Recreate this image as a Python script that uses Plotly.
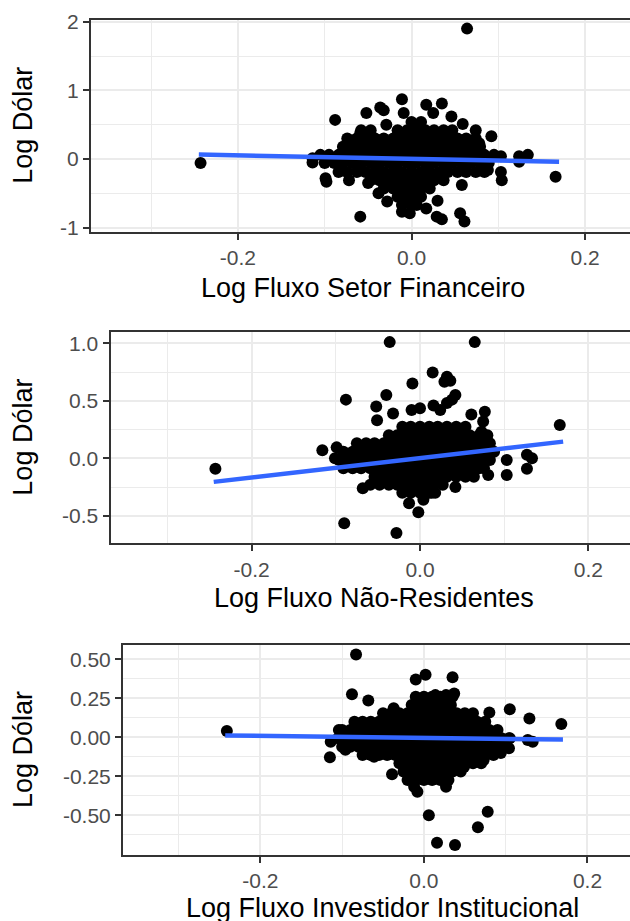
import plotly.graph_objects as go

# ---------------- data ----------------
# Panel 1: Log Fluxo Setor Financeiro vs Log Dolar
fin_outliers = [(-0.243, -0.06), (0.064, 1.90), (-0.011, 0.87), (-0.036, 0.75), (-0.032, 0.71),
                (-0.052, 0.67), (-0.088, 0.57), (0.017, 0.79), (0.035, 0.81), (-0.009, 0.67),
                (0.025, 0.67), (0.046, 0.62), (0.059, 0.51), (0.074, 0.42), (0.092, 0.33),
                (-0.029, 0.50), (-0.059, 0.38), (-0.051, 0.37), (0.078, 0.23), (0.103, 0.04),
                (0.124, 0.04), (0.134, 0.06), (0.124, -0.04), (0.166, -0.26), (-0.114, 0.01),
                (-0.114, -0.05), (-0.099, -0.28), (-0.098, -0.33), (-0.072, -0.31), (-0.050, -0.35),
                (-0.038, -0.50), (-0.028, -0.62), (-0.059, -0.84), (-0.011, -0.77), (-0.002, -0.79),
                (0.017, -0.72), (0.029, -0.84), (0.035, -0.88), (0.030, -0.61), (0.058, -0.38),
                (0.056, -0.79), (0.061, -0.91), (0.103, -0.19), (0.104, -0.31), (0.088, -0.16)]
fin_core_rows = [
    (0.54, [0.000, 0.011]),
    (0.42, [-0.058, -0.047, -0.016, -0.005, 0.005, 0.016, 0.026, 0.037, 0.047]),
    (0.30, [-0.074, -0.063, -0.053, -0.042, -0.032, -0.021, -0.011, 0.000, 0.011, 0.021, 0.032,
            0.042, 0.053, 0.063, 0.074]),
    (0.18, [-0.079, -0.068, -0.058, -0.047, -0.037, -0.026, -0.016, -0.005, 0.005, 0.016, 0.026,
            0.037, 0.047, 0.058, 0.068, 0.079]),
    (0.06, [-0.105, -0.095, -0.084, -0.074, -0.063, -0.053, -0.042, -0.032, -0.021, -0.011, 0.000,
            0.011, 0.021, 0.032, 0.042, 0.053, 0.063, 0.074, 0.084, 0.095]),
    (-0.06, [-0.100, -0.089, -0.079, -0.068, -0.058, -0.047, -0.037, -0.026, -0.016, -0.005, 0.005,
             0.016, 0.026, 0.037, 0.047, 0.058, 0.068, 0.079, 0.089]),
    (-0.19, [-0.084, -0.074, -0.063, -0.053, -0.042, -0.032, -0.021, -0.011, 0.000, 0.011, 0.021,
             0.032, 0.042, 0.053, 0.063, 0.074, 0.084]),
    (-0.31, [-0.047, -0.037, -0.026, -0.016, -0.005, 0.005, 0.016, 0.026, 0.037]),
    (-0.43, [-0.032, -0.021, -0.011, 0.000, 0.011, 0.021]),
    (-0.55, [-0.016, -0.005, 0.005, 0.011]),
    (-0.67, [-0.011, 0.000, 0.006]),
]
fin_fit_x = [-0.245, 0.170]
fin_fit_y = [0.065, -0.040]

# Panel 2: Log Fluxo Nao-Residentes vs Log Dolar
nr_outliers = [(-0.243, -0.09), (-0.036, 1.01), (0.065, 1.01), (0.015, 0.745), (0.032, 0.71),
               (0.036, 0.675), (0.029, 0.666), (-0.009, 0.65), (-0.040, 0.55), (-0.088, 0.51),
               (-0.052, 0.45), (-0.051, 0.33), (0.042, 0.55), (0.038, 0.51), (0.032, 0.48),
               (-0.010, 0.42), (0.000, 0.435), (0.016, 0.46), (0.024, 0.42), (-0.032, 0.39),
               (0.061, 0.38), (0.077, 0.405), (0.075, 0.32), (0.073, 0.23), (0.166, 0.29),
               (-0.116, 0.07), (-0.099, 0.095), (-0.101, 0.0), (0.127, 0.03), (0.133, 0.0),
               (0.127, -0.09), (0.103, -0.015), (0.103, -0.145), (0.081, -0.145), (-0.068, -0.26),
               (0.042, -0.25), (-0.013, -0.39), (-0.002, -0.47), (0.014, -0.30), (0.004, -0.36),
               (-0.090, -0.565), (-0.028, -0.65)]
nr_core_rows = [
    (0.275, [-0.021, -0.011, 0.000, 0.011, 0.021, 0.032, 0.043, 0.054]),
    (0.20, [-0.037, -0.027, -0.016, -0.005, 0.005, 0.016, 0.027, 0.037, 0.048, 0.059, 0.070, 0.080]),
    (0.13, [-0.075, -0.064, -0.054, -0.043, -0.032, -0.021, -0.011, 0.000, 0.011, 0.021, 0.032,
            0.043, 0.054, 0.064, 0.075, 0.083]),
    (0.057, [-0.091, -0.080, -0.070, -0.059, -0.048, -0.037, -0.027, -0.016, -0.005, 0.005, 0.016,
             0.027, 0.037, 0.048, 0.059, 0.070, 0.080, 0.088]),
    (-0.015, [-0.096, -0.086, -0.075, -0.064, -0.054, -0.043, -0.032, -0.021, -0.011, 0.000, 0.011,
              0.021, 0.032, 0.043, 0.054, 0.064, 0.075, 0.083]),
    (-0.087, [-0.091, -0.080, -0.070, -0.059, -0.048, -0.037, -0.027, -0.016, -0.005, 0.005, 0.016,
              0.027, 0.037, 0.048, 0.059, 0.070, 0.076]),
    (-0.16, [-0.054, -0.043, -0.032, -0.021, -0.011, 0.000, 0.011, 0.021, 0.032, 0.043, 0.054,
             0.064]),
    (-0.23, [-0.059, -0.048, -0.037, -0.027, -0.016, -0.005, 0.005, 0.016, 0.027]),
    (-0.30, [-0.021, -0.011, 0.000, 0.011, 0.018]),
]
nr_fit_x = [-0.245, 0.170]
nr_fit_y = [-0.205, 0.145]

# Panel 3: Log Fluxo Investidor Institucional vs Log Dolar
ii_outliers = [(-0.241, 0.04), (-0.083, 0.53), (-0.010, 0.37), (0.002, 0.40), (0.035, 0.385),
               (-0.088, 0.275), (-0.068, 0.235), (-0.037, 0.186), (0.037, 0.28), (0.027, 0.27),
               (0.014, 0.27), (0.080, 0.158), (0.105, 0.18), (0.129, 0.12), (0.168, 0.085),
               (0.127, -0.017), (0.133, -0.028), (0.104, -0.006), (0.104, -0.07), (0.094, -0.10),
               (-0.104, 0.047), (-0.114, -0.028), (-0.115, -0.128), (-0.096, -0.08), (-0.061, -0.124),
               (-0.039, -0.237), (0.073, -0.145), (-0.012, -0.317), (-0.008, -0.349), (0.027, -0.317),
               (0.049, -0.19), (0.006, -0.50), (0.078, -0.477), (0.066, -0.577), (0.016, -0.676),
               (0.038, -0.69)]
ii_core_rows = [
    (0.26, [-0.010, 0.000, 0.010, 0.020, 0.030, 0.035]),
    (0.207, [-0.015, -0.005, 0.005, 0.015, 0.025, 0.033]),
    (0.154, [-0.050, -0.040, -0.030, -0.020, -0.010, 0.000, 0.010, 0.020, 0.030, 0.040, 0.050,
             0.060]),
    (0.10, [-0.085, -0.075, -0.065, -0.055, -0.045, -0.035, -0.025, -0.015, -0.005, 0.005, 0.015,
            0.025, 0.035, 0.045, 0.055, 0.065, 0.075]),
    (0.047, [-0.100, -0.090, -0.080, -0.070, -0.060, -0.050, -0.040, -0.030, -0.020, -0.010, 0.000,
             0.010, 0.020, 0.030, 0.040, 0.050, 0.060, 0.070, 0.080, 0.090]),
    (-0.006, [-0.105, -0.095, -0.085, -0.075, -0.065, -0.055, -0.045, -0.035, -0.025, -0.015, -0.005,
              0.005, 0.015, 0.025, 0.035, 0.045, 0.055, 0.065, 0.075, 0.085, 0.095, 0.105]),
    (-0.06, [-0.100, -0.090, -0.080, -0.070, -0.060, -0.050, -0.040, -0.030, -0.020, -0.010, 0.000,
             0.010, 0.020, 0.030, 0.040, 0.050, 0.060, 0.070, 0.080, 0.090, 0.100]),
    (-0.113, [-0.075, -0.065, -0.055, -0.045, -0.035, -0.025, -0.015, -0.005, 0.005, 0.015, 0.025,
              0.035, 0.045, 0.055, 0.065, 0.075, 0.085]),
    (-0.167, [-0.030, -0.020, -0.010, 0.000, 0.010, 0.020, 0.030, 0.040, 0.050, 0.060, 0.070]),
    (-0.22, [-0.025, -0.015, -0.005, 0.005, 0.015, 0.025, 0.035, 0.045]),
    (-0.274, [-0.020, -0.010, 0.000, 0.010, 0.020, 0.030]),
]
ii_fit_x = [-0.243, 0.170]
ii_fit_y = [0.012, -0.015]

# tick labels
x_tickvals = [-0.2, 0.0, 0.2]
x_ticktext = ["-0.2", "0.0", "0.2"]
x_minorvals = [-0.3, -0.1, 0.1]
y1_tickvals = [-1, 0, 1, 2]
y1_ticktext = ["-1", "0", "1", "2"]
y1_minorvals = [-0.5, 0.5, 1.5]
y2_tickvals = [-0.5, 0.0, 0.5, 1.0]
y2_ticktext = ["-0.5", "0.0", "0.5", "1.0"]
y2_minorvals = [-0.75, -0.25, 0.25, 0.75]
y3_tickvals = [-0.5, -0.25, 0.0, 0.25, 0.5]
y3_ticktext = ["-0.50", "-0.25", "0.00", "0.25", "0.50"]
y3_minorvals = [-0.625, -0.375, -0.125, 0.125, 0.375]

x_titles = ["Log Fluxo Setor Financeiro", "Log Fluxo Não-Residentes",
            "Log Fluxo Investidor Institucional"]
y_title = "Log Dólar"


def expand(outliers, rows):
    pts = list(outliers)
    for yv, xs in rows:
        pts.extend((xv, yv) for xv in xs)
    return [p[0] for p in pts], [p[1] for p in pts]


# ---------------- figure ----------------
W, H = 630, 921
FONT = "Liberation Sans, Arial, sans-serif"
GRID = "#EBEBEB"
DARK = "#333333"

panels = [
    dict(pts=expand(fin_outliers, fin_core_rows), fx=fin_fit_x, fy=fin_fit_y,
         left=91, top=19.7, bottom=232, xr=[-0.3692, 0.2517], yr=[-1.064, 2.03],
         yt=(y1_tickvals, y1_ticktext, y1_minorvals), title_x=363, title_y=288),
    dict(pts=expand(nr_outliers, nr_core_rows), fx=nr_fit_x, fy=nr_fit_y,
         left=110.5, top=332, bottom=543.3, xr=[-0.3676, 0.2494], yr=[-0.739, 1.098],
         yt=(y2_tickvals, y2_ticktext, y2_minorvals), title_x=374, title_y=598),
    dict(pts=expand(ii_outliers, ii_core_rows), fx=ii_fit_x, fy=ii_fit_y,
         left=123, top=645, bottom=855, xr=[-0.368, 0.252], yr=[-0.754, 0.591],
         yt=(y3_tickvals, y3_ticktext, y3_minorvals), title_x=382.5, title_y=908),
]

fig = go.Figure()
annotations = []
layout_axes = {}
for i, p in enumerate(panels):
    sfx = "" if i == 0 else str(i + 1)
    xa, ya = "x" + sfx, "y" + sfx
    fig.add_trace(go.Scatter(x=p["pts"][0], y=p["pts"][1], mode="markers",
                             marker=dict(color="black", size=12, line=dict(width=0)),
                             xaxis=xa, yaxis=ya, showlegend=False, hoverinfo="skip"))
    fig.add_trace(go.Scatter(x=p["fx"], y=p["fy"], mode="lines",
                             line=dict(color="#3366FF", width=4.5),
                             xaxis=xa, yaxis=ya, showlegend=False, hoverinfo="skip"))
    tickfont = dict(family=FONT, size=21, color="#4D4D4D")
    layout_axes["xaxis" + sfx] = dict(
        domain=[p["left"] / W, 1.0], range=p["xr"], anchor=ya, automargin=False,
        tickmode="array", tickvals=x_tickvals, ticktext=x_ticktext,
        ticks="outside", ticklen=6, tickwidth=2, tickcolor=DARK,
        showline=True, linecolor=DARK, linewidth=2, mirror=True,
        showgrid=True, gridcolor=GRID, gridwidth=1.6, zeroline=False,
        minor=dict(tickmode="array", tickvals=x_minorvals, showgrid=True,
                   gridcolor=GRID, gridwidth=1, ticks=""),
        tickfont=tickfont, fixedrange=True)
    yv, yt, ym = p["yt"]
    layout_axes["yaxis" + sfx] = dict(
        domain=[1 - p["bottom"] / H, 1 - p["top"] / H], range=p["yr"], anchor=xa,
        automargin=False,
        tickmode="array", tickvals=yv, ticktext=yt,
        ticks="outside", ticklen=6, tickwidth=2, tickcolor=DARK,
        showline=True, linecolor=DARK, linewidth=2, mirror=False,
        showgrid=True, gridcolor=GRID, gridwidth=1.6, zeroline=False,
        minor=dict(tickmode="array", tickvals=ym, showgrid=True,
                   gridcolor=GRID, gridwidth=1, ticks=""),
        tickfont=tickfont, fixedrange=True)
    annotations.append(dict(text=x_titles[i], xref="paper", yref="paper",
                            x=p["title_x"] / W, y=1 - p["title_y"] / H,
                            xanchor="center", yanchor="middle", showarrow=False,
                            font=dict(family=FONT, size=27, color="black")))
    annotations.append(dict(text=y_title, xref="paper", yref="paper",
                            x=23 / W, y=1 - (p["top"] + p["bottom"]) / 2 / H,
                            xanchor="center", yanchor="middle", textangle=-90,
                            showarrow=False,
                            font=dict(family=FONT, size=27, color="black")))

fig.update_layout(width=W, height=H, margin=dict(l=0, r=0, t=0, b=0, autoexpand=False),
                  paper_bgcolor="white", plot_bgcolor="white",
                  annotations=annotations, **layout_axes)

fig.write_html("out.html", config={"displayModeBar": False},
               post_script="document.body.style.margin='0';document.body.style.overflow='hidden';")
